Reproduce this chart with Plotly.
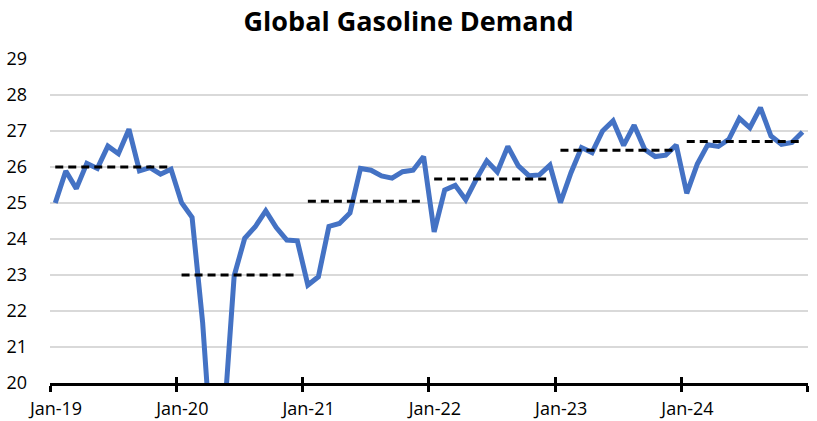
import plotly.graph_objects as go
import numpy as np

years = ["19", "20", "21", "22", "23", "24"]
month_names = ["Jan", "Feb", "Mar", "Apr", "May", "Jun", "Jul", "Aug", "Sep", "Oct", "Nov", "Dec"]
months = [f"{m}-{y}" for y in years for m in month_names]

demand = [
    25.00, 25.89, 25.40, 26.10, 25.96, 26.58, 26.37, 27.05, 25.89, 25.98, 25.80, 25.94,  # 2019
    25.01, 24.60, 21.69, 17.50, 18.85, 22.98, 24.02, 24.34, 24.78, 24.32, 23.97, 23.95,  # 2020
    22.72, 22.95, 24.35, 24.43, 24.72, 25.96, 25.91, 25.75, 25.69, 25.87, 25.91, 26.29,  # 2021
    24.20, 25.36, 25.49, 25.09, 25.66, 26.17, 25.86, 26.57, 26.03, 25.76, 25.78, 26.05,  # 2022
    25.01, 25.84, 26.54, 26.40, 27.00, 27.28, 26.60, 27.16, 26.49, 26.29, 26.33, 26.61,  # 2023
    25.27, 26.08, 26.62, 26.57, 26.77, 27.35, 27.09, 27.65, 26.86, 26.63, 26.68, 26.97,  # 2024
]
tick_labels = ["Jan-19", "Jan-20", "Jan-21", "Jan-22", "Jan-23", "Jan-24", ""]
y_ticks = [20, 21, 22, 23, 24, 25, 26, 27, 28, 29]

x = list(range(len(months)))

# annual averages (dashed segments from first to last month of each year)
avg_x, avg_y = [], []
for k in range(len(years)):
    seg = demand[12 * k:12 * k + 12]
    m = float(np.mean(seg))
    avg_x += [12 * k, 12 * k + 11, None]
    avg_y += [m, m, None]

fig = go.Figure()
fig.add_trace(go.Scatter(
    x=x, y=demand, mode="lines", name="Demand",
    line=dict(color="#4472C4", width=5, shape="linear"),
    customdata=months, hovertemplate="%{customdata}: %{y:.2f}<extra></extra>",
))
fig.add_trace(go.Scatter(
    x=avg_x, y=avg_y, mode="lines", name="Annual average",
    line=dict(color="black", width=3, dash="8px,5px"),
    xaxis="x2", yaxis="y",
))

boundaries = [i - 0.5 for i in range(0, len(months) + 1, 12)]
xr = [-0.5, len(months) - 0.5 + 0.02]
tick_font = dict(family="Open Sans, Noto Sans, sans-serif", size=18, color="#000000")

fig.update_layout(
    width=817, height=421,
    margin=dict(l=50, r=9, t=59, b=38),
    paper_bgcolor="white", plot_bgcolor="white",
    showlegend=False,
    title=dict(text="<b>Global Gasoline Demand</b>", x=0.5, xanchor="center",
               y=0.95, yanchor="middle",
               font=dict(family="Open Sans, Noto Sans, sans-serif", size=27, color="black")),
    xaxis=dict(
        range=xr, tickmode="array", tickvals=boundaries, ticktext=tick_labels,
        ticks="outside", ticklen=6, tickwidth=2.5, tickcolor="black",
        ticklabelshift=6, ticklabelstandoff=1, automargin=False,
        showline=True, linecolor="black", linewidth=3,
        showgrid=False, zeroline=False, tickfont=tick_font,
    ),
    xaxis2=dict(
        range=xr, overlaying="x", side="bottom", anchor="y",
        tickmode="array", tickvals=boundaries, showticklabels=False,
        ticks="inside", ticklen=6, tickwidth=2.5, tickcolor="black",
        showline=False, showgrid=False, zeroline=False, automargin=False,
    ),
    yaxis=dict(
        range=[20, 29], tickmode="array", tickvals=y_ticks,
        showgrid=True, gridcolor="#D9D9D9", gridwidth=1.5,
        showline=False, zeroline=False, ticks="", ticklabelstandoff=22,
        tickfont=tick_font, automargin=False,
    ),
)

# remove the default page margin so the 817x421 figure fills the window exactly
fig.write_html("out.html", config={"displayModeBar": False},
               post_script="document.body.style.margin='0';")
